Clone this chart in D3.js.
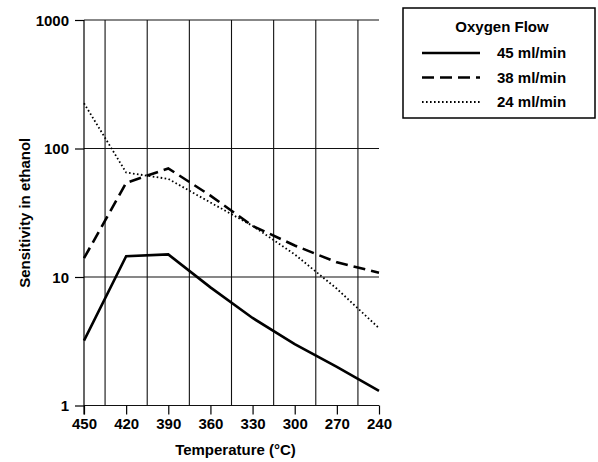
<!DOCTYPE html>
<head>
    <meta charset="utf-8">
    <title>Sensitivity vs Temperature</title>
    <script src="https://d3js.org/d3.v7.min.js"></script>
    <style>
        body { margin: 0; background: #fff; }
        svg { display: block; font-family: "Liberation Sans", Arial, sans-serif; font-weight: bold; }
        .axis text { font-size: 15px; font-weight: bold; fill: #000; }
        .axis path { display: none; }
        .axis line { stroke: #000; stroke-width: 1.2; }
    </style>
</head>
<body>
    <div id="container"></div>
    <script>
        //---------------------------DATA-------------------------------//
        var temps = [450, 420, 390, 360, 330, 300, 270, 240];
        var flow45 = [3.2, 14.5, 15, 8.3, 4.8, 3.0, 2.0, 1.3];
        var flow38 = [14, 54, 70, 43, 25, 17.6, 13, 10.8];
        var flow24 = [225, 65, 58, 38, 25, 15, 8.1, 4.0];
        var gridTemps = [435, 405, 375, 345, 315, 285, 255];
        var yTicks = [1, 10, 100, 1000];
        var seriesNames = ["45 ml/min", "38 ml/min", "24 ml/min"];

        var series = [
            { name: seriesNames[0], values: flow45, dash: null, width: 2.6 },
            { name: seriesNames[1], values: flow38, dash: "12,6", width: 2.6 },
            { name: seriesNames[2], values: flow24, dash: "1.6,2.4", width: 1.8 }
        ];

        //---------------------------SVG--------------------------------//
        var W = 598, H = 462;
        var plot = { left: 84, right: 379, top: 20, bottom: 405.5 };

        var svg = d3.select("#container").append("svg")
            .attr("width", W).attr("height", H);
        svg.append("rect").attr("width", W).attr("height", H).attr("fill", "#fff");

        var x = d3.scaleLinear().domain([450, 240]).range([plot.left, plot.right]);
        var y = d3.scaleLog().domain([1, 1000]).range([plot.bottom, plot.top]);

        //---------------------------GRID-------------------------------//
        svg.append("g").selectAll("line")
            .data(gridTemps)
            .enter().append("line")
            .attr("x1", d => x(d)).attr("x2", d => x(d))
            .attr("y1", plot.top).attr("y2", plot.bottom)
            .attr("stroke", "#111").attr("stroke-width", 1.1);

        svg.append("g").selectAll("line")
            .data(yTicks)
            .enter().append("line")
            .attr("x1", plot.left).attr("x2", plot.right)
            .attr("y1", d => y(d)).attr("y2", d => y(d))
            .attr("stroke", "#111").attr("stroke-width", 1.1);

        // left axis line, runs down as the first x tick
        svg.append("line")
            .attr("x1", plot.left).attr("x2", plot.left)
            .attr("y1", plot.top).attr("y2", plot.bottom + 9)
            .attr("stroke", "#000").attr("stroke-width", 1.2);

        //---------------------------AXES-------------------------------//
        var xAxis = d3.axisBottom(x)
            .tickValues(temps)
            .tickSize(9)
            .tickPadding(4)
            .tickFormat(d3.format("d"));

        svg.append("g")
            .attr("class", "axis")
            .attr("transform", "translate(0," + plot.bottom + ")")
            .call(xAxis);

        var yAxis = d3.axisLeft(y)
            .tickValues(yTicks)
            .tickSize(9)
            .tickPadding(6)
            .tickFormat(d3.format("d"));

        svg.append("g")
            .attr("class", "axis")
            .attr("transform", "translate(" + plot.left + ",0)")
            .call(yAxis)
            .selectAll("text").attr("dy", "0.36em");

        svg.append("text")
            .attr("x", (plot.left + plot.right) / 2 + 4)
            .attr("y", 455)
            .attr("text-anchor", "middle")
            .style("font-size", "15px")
            .text("Temperature (°C)");

        svg.append("text")
            .attr("transform", "translate(25," + ((plot.top + plot.bottom) / 2) + ") rotate(-90)")
            .attr("dy", "0.35em")
            .attr("text-anchor", "middle")
            .style("font-size", "15px")
            .text("Sensitivity in ethanol");

        //---------------------------LINES------------------------------//
        var line = d3.line()
            .x((d, i) => x(temps[i]))
            .y(d => y(d));

        svg.append("g").selectAll("path")
            .data(series)
            .enter().append("path")
            .attr("d", d => line(d.values))
            .attr("fill", "none")
            .attr("stroke", "#000")
            .attr("stroke-width", d => d.width)
            .attr("stroke-dasharray", d => d.dash);

        //---------------------------LEGEND-----------------------------//
        var lg = svg.append("g").attr("transform", "translate(403,8)");
        lg.append("rect")
            .attr("width", 192).attr("height", 110)
            .attr("fill", "#fff").attr("stroke", "#000").attr("stroke-width", 1.5);
        lg.append("text")
            .attr("x", 99).attr("y", 24)
            .attr("text-anchor", "middle")
            .style("font-size", "15px")
            .text("Oxygen Flow");

        var rows = lg.selectAll(".row")
            .data(series)
            .enter().append("g")
            .attr("class", "row")
            .attr("transform", (d, i) => "translate(0," + (45 + i * 24.5) + ")");
        rows.append("line")
            .attr("x1", 19).attr("x2", 77)
            .attr("stroke", "#000")
            .attr("stroke-width", d => d.width)
            .attr("stroke-dasharray", d => d.dash);
        rows.append("text")
            .attr("x", 94).attr("y", 5)
            .style("font-size", "15px")
            .text(d => d.name);
    </script>
</body>
